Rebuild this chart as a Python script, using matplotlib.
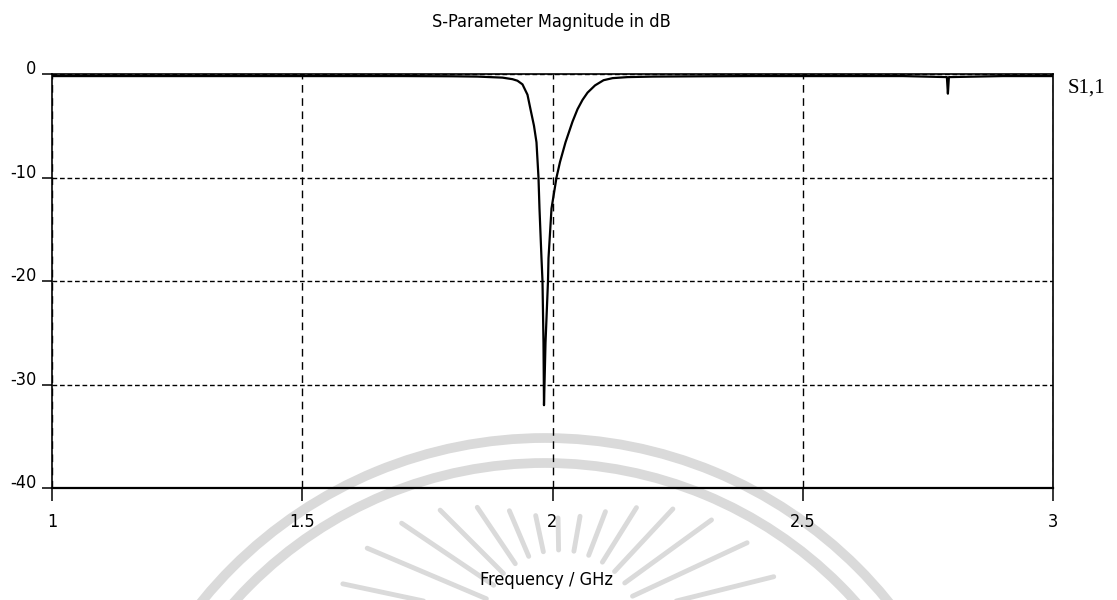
import numpy as np
import matplotlib.pyplot as plt
from matplotlib.patches import Arc

plt.rcParams['font.family'] = ['DejaVu Sans']
plt.rcParams['font.stretch'] = 'condensed'

# S1,1 sweep
freq = [1.0, 1.1, 1.2, 1.3, 1.4, 1.5, 1.6, 1.7, 1.8, 1.85, 1.9, 1.92, 1.93, 1.94,
        1.95, 1.956, 1.963, 1.968, 1.972, 1.974, 1.978, 1.980, 1.982, 1.983,
        1.986, 1.991, 1.992, 1.998, 2.008, 2.015, 2.026, 2.04, 2.05, 2.06, 2.07,
        2.085, 2.102, 2.12, 2.15, 2.2, 2.3, 2.4, 2.5, 2.6, 2.7, 2.788, 2.79,
        2.792, 2.9, 3.0]
s11_db = [-0.2, -0.2, -0.2, -0.2, -0.2, -0.2, -0.2, -0.2, -0.22, -0.25, -0.35,
          -0.5, -0.65, -1.0, -2.0, -3.4, -5.0, -6.6, -10.0, -13.0, -17.8, -20.0,
          -26.0, -32.0, -26.0, -20.0, -17.8, -13.0, -10.0, -8.5, -6.6, -4.6,
          -3.4, -2.5, -1.8, -1.1, -0.6, -0.4, -0.3, -0.25, -0.22, -0.2, -0.2,
          -0.2, -0.2, -0.3, -1.9, -0.3, -0.2, -0.2]

x_ticks = [1, 1.5, 2, 2.5, 3]
x_tick_labels = ["1", "1.5", "2", "2.5", "3"]
y_ticks = [0, -10, -20, -30, -40]
y_tick_labels = ["0", "-10", "-20", "-30", "-40"]

fig = plt.figure(figsize=(11.17, 6.0), dpi=100)

# faint scanned watermark behind the chart
bg = fig.add_axes([0, 0, 1, 1], zorder=0)
bg.set_xlim(0, 1117)
bg.set_ylim(600, 0)
bg.axis('off')
wm = '#dadada'
for r in (442, 417):
    bg.add_patch(Arc((545, 880), 2 * r, 2 * r, color=wm, lw=7))
for ang in np.arange(14, 170, 11):
    a = np.radians(ang)
    r_out = 112 + 115 * np.cos(a) ** 2
    bg.plot([560 + 80 * np.cos(a), 560 + r_out * np.cos(a)],
            [630 - 80 * np.sin(a), 630 - r_out * np.sin(a)],
            color=wm, lw=3.5, solid_capstyle='round')

ax = fig.add_axes([52 / 1117, 1 - 488 / 600, 1001 / 1117, 414 / 600], zorder=1)
ax.patch.set_alpha(0)

ax.plot(freq, s11_db, color='black', lw=1.6, zorder=3)

ax.set_xlim(1, 3)
ax.set_ylim(-40, 0)
ax.set_xticks(x_ticks, x_tick_labels)
ax.set_yticks(y_ticks, y_tick_labels)
ax.tick_params(axis='x', direction='out', length=9, width=1.1, pad=9,
               labelsize=13)
ax.tick_params(axis='y', direction='out', length=7, width=1.1, pad=4,
               labelsize=13)
for lab in ax.get_yticklabels():
    lab.set_verticalalignment('baseline')

ax.xaxis.grid(True, color='black', lw=1.0, linestyle=(0, (5.5, 4)))
ax.yaxis.grid(True, color='black', lw=1.0, linestyle=(0, (3.4, 2)))

for side in ['left', 'right', 'top', 'bottom']:
    ax.spines[side].set_linewidth(1.2)
ax.spines['bottom'].set_linewidth(1.6)

fig.text(551 / 1117, 1 - 22 / 600, "S-Parameter Magnitude in dB",
         ha='center', va='center', fontsize=13)
fig.text(547 / 1117, 1 - 580 / 600, "Frequency / GHz",
         ha='center', va='center', fontsize=13)
fig.text(1068 / 1117, 1 - 88 / 600, "S1,1", ha='left', va='center',
         fontsize=15, family=['Liberation Serif', 'DejaVu Serif'])

fig.savefig("out.png", dpi=100)
